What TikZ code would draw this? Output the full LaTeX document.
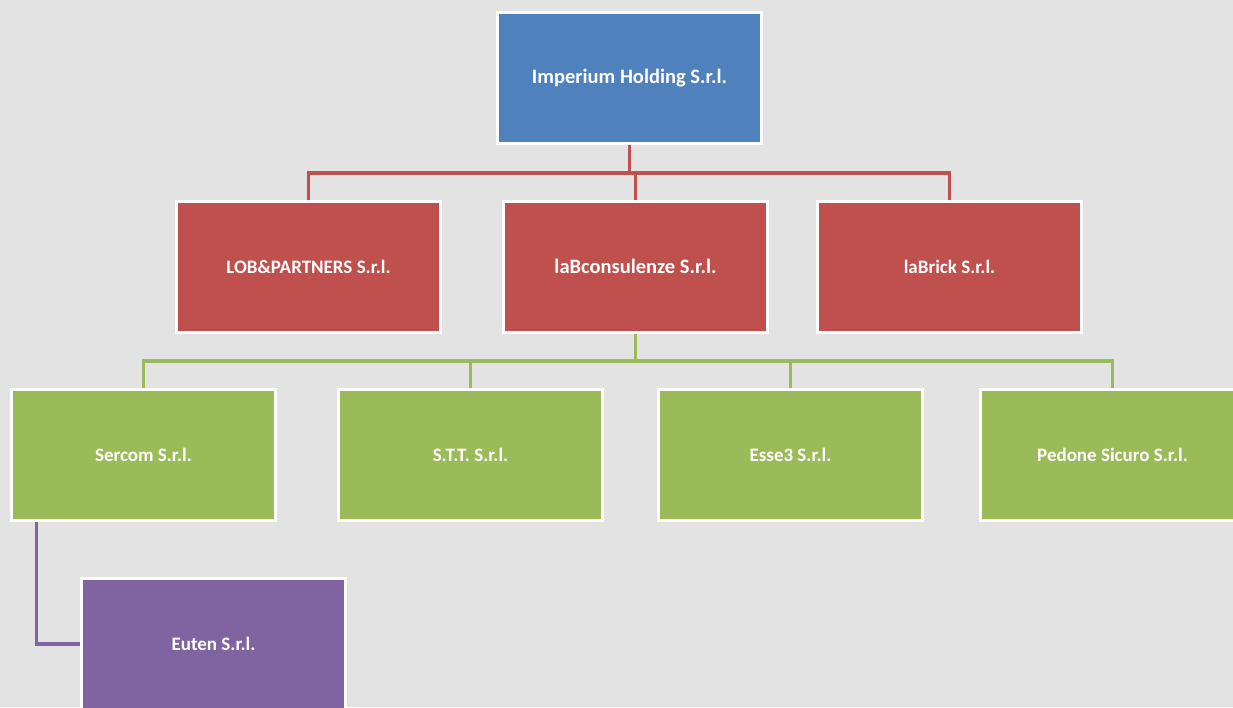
\documentclass[tikz,border=0pt]{standalone}
\usepackage{fontspec}
\setmainfont{Carlito}
\pgfdeclarelayer{bg}
\pgfdeclarelayer{conn}
\pgfsetlayers{bg,conn,main}
\definecolor{bgc}{HTML}{E3E3E3}
\definecolor{cblue}{HTML}{4F81BD}
\definecolor{cred}{HTML}{C0504D}
\definecolor{cgreen}{HTML}{9BBB59}
\definecolor{cpurple}{HTML}{8064A2}
\begin{document}
\begin{tikzpicture}[x=1pt,y=-1pt,
  box/.style={draw=white, line width=3pt, minimum width=264pt, minimum height=131pt,
    inner sep=0pt, text=white, font=\bfseries\fontsize{19}{22}\selectfont},
  bigtext/.style={font=\bfseries\fontsize{20.5}{24}\selectfont},
  conline/.style={line width=3.6pt}]
\useasboundingbox (0,0) rectangle (1233,707);
\begin{pgfonlayer}{bg}
\fill[bgc] (0,0) rectangle (1233,707);
\end{pgfonlayer}
\begin{scope}
\clip (0,0) rectangle (1233,707);
\node[box, bigtext, fill=cblue] (imp) at (629.5,78) {Imperium Holding S.r.l.};
\node[box, fill=cred] (lob) at (308.5,266.5) {LOB\&PARTNERS S.r.l.};
\node[box, bigtext, fill=cred] (lab) at (635.5,266.5) {laBconsulenze S.r.l.};
\node[box, fill=cred] (labrick) at (949.5,266.5) {laBrick S.r.l.};
\node[box, fill=cgreen] (serc) at (143.5,455) {Sercom S.r.l.};
\node[box, fill=cgreen] (stt) at (470.5,455) {S.T.T. S.r.l.};
\node[box, fill=cgreen] (esse) at (790.5,455) {Esse3 S.r.l.};
\node[box, fill=cgreen] (ped) at (1112.5,455) {Pedone Sicuro S.r.l.};
\node[box, fill=cpurple] (euten) at (213.5,644) {Euten S.r.l.};
\end{scope}
\coordinate (rbus) at (0,173);
\coordinate (gbus) at (0,361);
\begin{pgfonlayer}{conn}
\draw[conline, cred] (imp.south) -- (imp.south |- rbus);
\draw[conline, cred] (lob.north) -- (lob.north |- rbus) -- (labrick.north |- rbus) -- (labrick.north);
\draw[conline, cred] (lab.north) -- (lab.north |- rbus);
\draw[conline, cgreen] (lab.south) -- (lab.south |- gbus);
\draw[conline, cgreen] (serc.north) -- (serc.north |- gbus) -- (ped.north |- gbus) -- (ped.north);
\draw[conline, cgreen] (stt.north) -- (stt.north |- gbus);
\draw[conline, cgreen] (esse.north) -- (esse.north |- gbus);
\draw[conline, cpurple] ([xshift=26.5pt]serc.south west) |- (euten.west);
\end{pgfonlayer}
\end{tikzpicture}
\end{document}
